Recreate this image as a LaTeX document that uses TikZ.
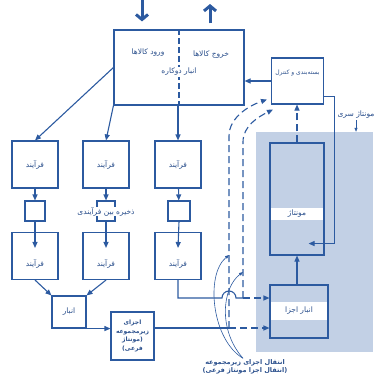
\documentclass[tikz,border=0pt]{standalone}
\usepackage{fontspec}
\usepackage{tikz}
\usetikzlibrary{arrows.meta, positioning, calc}
\newfontfamily\farsi[Script=Arabic]{DejaVu Sans}
\TeXXeTstate=1
\newcommand{\fa}[1]{\beginR#1\endR}
\definecolor{inkblue}{HTML}{2C5AA0}
\definecolor{textblue}{HTML}{2A4F8C}
\definecolor{shadeblue}{HTML}{C2D0E5}
\tikzset{
    fatext/.style={
        font=\farsi\fontsize{7.5}{9}\selectfont, text=textblue, align=center, inner sep=1pt
    },
    procbox/.style={
        rectangle, draw=inkblue, line width=1.1pt, fill=white,
        minimum width=46pt, minimum height=47pt, inner sep=1pt,
        font=\farsi\fontsize{7.5}{9}\selectfont, text=textblue, align=center
    },
    bufbox/.style={
        rectangle, draw=inkblue, line width=1.1pt, fill=white,
        minimum width=20pt, minimum height=20pt, inner sep=0pt
    },
    areabox/.style={
        rectangle, draw=none, fill=shadeblue, inner sep=0pt
    },
    strip/.style={
        fatext, fill=white, draw=none, inner sep=0pt
    },
    flow/.style={
        -{Triangle[length=6pt, width=5pt]}, line width=1.1pt, color=inkblue
    },
    plainline/.style={
        line width=1.1pt, color=inkblue
    },
    dashflow/.style={
        -{Triangle[length=6pt, width=5pt]}, line width=1.1pt, color=inkblue,
        dash pattern=on 7pt off 4pt
    },
    thinflow/.style={
        -{Triangle[length=4pt, width=3pt]}, line width=0.6pt, color=inkblue
    },
    bigarrow/.style={
        -{Straight Barb[length=5pt, width=12pt]}, line width=3pt, color=inkblue
    },
}

\begin{document}
\begin{tikzpicture}[x=1pt, y=-1pt]
    \useasboundingbox (0,0) rectangle (376,380);

    % Shaded area: series assembly
    \node[areabox, minimum width=117pt, minimum height=220pt] (series) at (314.5,242) {};
    \node[fatext, anchor=south] (serieslbl) at (356,120) {\fa{مونتاژ سری}};
    \draw[thinflow] (serieslbl.south) -- (serieslbl.south |- series.north);

    % Dual warehouse and packing
    \node[procbox, minimum width=130pt, minimum height=75pt] (store) at (179,67.5) {};
    \draw[plainline, dash pattern=on 6pt off 3pt] (store.north) -- (store.south);
    \node[fatext] (inlbl) at (148,53) {\fa{ورود کالاها}};
    \node[fatext] (outlbl) at (211,55) {\fa{خروج کالاها}};
    \node[fatext, fill=white] (storelbl) at (179,72) {\fa{انبار دوکاره}};
    \node[procbox, minimum width=52pt, minimum height=46pt] (ctrl) at (297.5,81) {};
    \node[fatext, font=\farsi\fontsize{6}{8}\selectfont] (ctrllbl) at ($(ctrl.north)+(0,16)$) {\fa{بسته‌بندی و کنترل}};

    % Goods in and out
    \coordinate (goodsin) at (142,0);
    \coordinate (goodsout) at (210,4);
    \draw[bigarrow, shorten >=8pt] (goodsin) -- (goodsin |- store.north);
    \draw[bigarrow, shorten <=6pt] (goodsout |- store.north) -- (goodsout);

    % Column 1
    \node[procbox] (p1) at (35,164.5) {\fa{فرآیند}};
    \node[bufbox] (b1) at (35,211) {};
    \node[procbox] (q1) at (35,256) {};
    \node[fatext] (q1lbl) at (35,264) {\fa{فرآیند}};

    % Column 2
    \node[procbox] (p2) at (106,164.5) {\fa{فرآیند}};
    \node[bufbox, minimum width=18pt] (b2) at (106,211) {};
    \node[fatext, fill=white, inner sep=0.5pt] (b2lbl) at (106,211.5) {\fa{ذخیره بین فرآیندی}};
    \node[procbox] (q2) at (106,256) {};
    \node[fatext] (q2lbl) at (106,264) {\fa{فرآیند}};

    % Column 3
    \node[procbox] (p3) at (178,164.5) {\fa{فرآیند}};
    \node[bufbox, minimum width=22pt] (b3) at (179,211) {};
    \node[procbox] (q3) at (178,256) {};
    \node[fatext] (q3lbl) at (178,264) {\fa{فرآیند}};

    % Store and sub-assembly
    \node[procbox, minimum width=34pt, minimum height=32pt] (anbar) at (69,312) {\fa{انبار}};
    \node[procbox, minimum width=43pt, minimum height=48pt,
        font=\farsi\bfseries\fontsize{6}{8.5}\selectfont] (sub) at (132.5,336)
        {\fa{اجزای}\\\fa{زیرمجموعه}\\\fa{(مونتاژ}\\\fa{فرعی)}};

    % Assembly and parts store
    \node[procbox, fill=none, minimum width=54pt, minimum height=112pt] (asm) at (297,199) {};
    \node[strip, minimum width=52.6pt, minimum height=12pt] (asmtag) at (297,214) {\fa{مونتاژ}};
    \node[procbox, fill=none, minimum width=58pt, minimum height=53pt] (parts) at (299,311.5) {};
    \node[strip, minimum width=56.6pt, minimum height=18pt] (partstag) at (299,311) {\fa{انبار اجزا}};

    % Arrows from store to processes
    \draw[flow] (store.west) -- (p1.north);
    \draw[flow] (store.south west) -- (p2.north);
    \draw[flow] (p3.north |- store.south) -- (p3.north);

    % Arrows down the columns
    \draw[flow] (p1) -- (b1);
    \draw[flow] (p2) -- (b2);
    \draw[flow] (p3) -- (b3);
    \draw[flow] (b1.south) -- ($(q1.north)+(0,16)$);
    \draw[flow] (b2.south) -- ($(q2.north)+(0,16)$);
    \draw[flow] (b3.south) -- ($(q3.north)+(0,16)$);

    % To store and sub-assembly
    \draw[flow] (q1.south) -- (anbar.north west);
    \draw[flow] (q2.south) -- (anbar.north east);
    \draw[flow] (anbar.south east) -- (anbar.south east -| sub.west);

    % Lines to the parts store
    \coordinate (jlow) at (229,328);
    \coordinate (jup) at (243,298);
    \draw[plainline] (sub.east |- jlow) -- (jlow);
    \draw[dashflow] (jlow) -- (jlow -| parts.west);
    \draw[plainline] (q3.south) |- ([xshift=-7pt]jlow |- jup)
        arc[start angle=180, end angle=0, radius=7pt] -- (jup);
    \draw[dashflow] (jup) -- (jup -| parts.west);

    % Transport up to packing
    \draw[dashflow] (jlow) -- (229,136) .. controls (229,118) and (248,106) .. ([shift={(-4,-5)}]ctrl.south west);
    \draw[dashflow] (jup) -- (243,142) .. controls (243,126) and (258,117) .. ([shift={(2,5)}]ctrl.south west);

    % Packing, assembly and parts store
    \draw[flow] (ctrl.west) -- (ctrl.west -| store.east);
    \draw[dashflow] (asm.north) -- (asm.north |- ctrl.south);
    \draw[flow] ($(ctrl.south east)+(0,-8)$) -- ++(10,0) |- ($(asm.south east)+(-16,-12)$);
    \draw[flow] (parts.north -| asm.south) -- (asm.south);

    % Transfer label
    \node[fatext, font=\farsi\bfseries\fontsize{6.5}{8.5}\selectfont] (transferlbl) at (245,367)
        {\fa{انتقال اجزای زیرمجموعه}\\\fa{(انتقال اجزا مونتاژ فرعی)}};
    \draw[thinflow] ([xshift=-2pt]transferlbl.north) .. controls (212,340) and (205,275) .. ($(jlow)+(0,-73)$);
    \draw[thinflow] ([xshift=-2pt]transferlbl.north) .. controls (218,330) and (222,288) .. ($(jup)+(0,-26)$);

\end{tikzpicture}
\end{document}
